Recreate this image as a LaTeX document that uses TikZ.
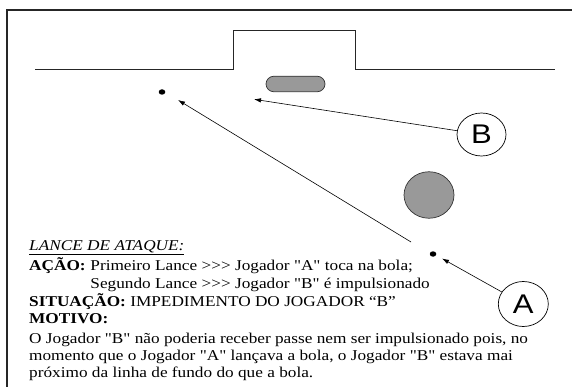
\documentclass[tikz,border=0pt]{standalone}
\usepackage{fontspec}
\setmainfont{Liberation Serif}[FakeStretch=1.15,Ligatures=TeXOff]
\newfontfamily\letterfont{Liberation Sans}[FakeStretch=1.15]
\usetikzlibrary{shapes.geometric,shapes.misc,arrows.meta}
\definecolor{keepgray}{HTML}{999999}
\begin{document}
\begin{tikzpicture}[x=1pt,y=-1pt,
  frame/.style={line width=1.3pt,black!85},
  fieldline/.style={line width=1pt,black!85},
  arr/.style={line width=0.6pt,-{Latex[length=7pt,width=4.5pt]}},
  grayshape/.style={fill=keepgray,draw=black!80,line width=0.7pt},
  lettercircle/.style={ellipse,draw,line width=0.7pt,fill=white,inner sep=0pt,
     minimum width=49pt,minimum height=43pt,font=\letterfont\fontsize{27}{27}\selectfont},
  ball/.style={ellipse,fill=black,inner sep=0pt,minimum width=6.5pt,minimum height=5.5pt},
  txt/.style={anchor=base west,inner sep=0pt,font=\fontsize{15}{18}\selectfont}]
\useasboundingbox (0,0) rectangle (572,387);
% frame
\draw[frame] (7,390) -- (7,10) -- (575,10);
% goal line with goal
\draw[fieldline] (35,69.5) -- (233.5,69.5) -- (233.5,31) -- (355.7,31) -- (355.7,69.5) -- (555,69.5);
% players and ball
\node[grayshape,rounded rectangle,minimum width=59pt,minimum height=15.5pt,inner sep=0pt] (pill) at (295.5,84) {};
\node[grayshape,ellipse,minimum width=50pt,minimum height=46.5pt,inner sep=0pt] (keeper) at (429,195) {};
\node[ball] (ball1) at (162,92) {};
\node[ball] (ball2) at (433,254) {};
\node[lettercircle] (B) at (481.5,134.5) {B};
\node[lettercircle,minimum width=50pt,minimum height=45pt] (A) at (523.3,304) {A};
% arrows
\coordinate (bHead) at (254,99.3);
\coordinate (aHead) at (442,258.5);
\coordinate (passFrom) at (411,242);
\coordinate (passTo) at (178,100);
\draw[arr] (B) -- (bHead);
\draw[arr] (A) -- (aHead);
\draw[arr] (passFrom) -- (passTo);
% text
\node[txt] (lance) at (29,250) {\itshape\underline{LANCE DE ATAQUE:}};
\node[txt] (acao) at (29,270) {\bfseries AÇÃO:};
\node[txt] (l1) at ([xshift=4.3pt]acao.base east) {Primeiro Lance >>> Jogador "A" toca na bola;};
\path (l1.base west) ++(0,18.5) node[txt] (l2) {Segundo Lance >>> Jogador "B" é impulsionado};
\node[txt] (sit) at (29,306.5) {\textbf{SITUAÇÃO:} IMPEDIMENTO DO JOGADOR “B”};
\node[txt] (mot) at (29,323) {\bfseries MOTIVO:};
\node[txt] (m1) at (29,343) {O Jogador "B" não poderia receber passe nem ser impulsionado pois, no};
\node[txt] (m2) at (29,360) {momento que o Jogador "A" lançava a bola, o Jogador "B" estava mai};
\node[txt] (m3) at (29,377) {próximo da linha de fundo do que a bola.};
\end{tikzpicture}
\end{document}
